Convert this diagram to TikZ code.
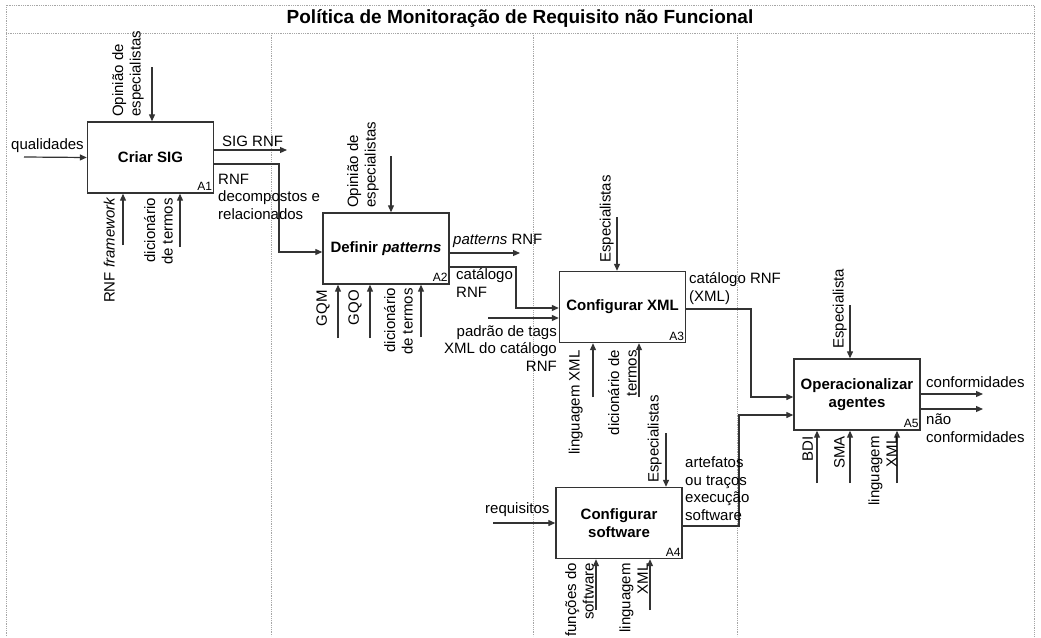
\documentclass[tikz,border=0pt]{standalone}
\usepackage{fontspec}
\setmainfont{Liberation Sans}
\usetikzlibrary{arrows.meta}

\begin{document}
\begin{tikzpicture}[x=1pt,y=-1pt,
  lbl/.style={font=\fontsize{15}{17.5}\selectfont, inner sep=0pt},
  procbox/.style={draw=black!80, line width=1.4pt, minimum width=126pt,
    minimum height=71pt, font=\fontsize{15}{18}\selectfont\bfseries,
    align=center, inner sep=0pt},
  arr/.style={draw=black!80, line width=1.2pt, -{Triangle[length=7pt,width=6pt]}},
  guide/.style={draw=gray!70, line width=0.8pt, densely dotted},
  tag/.style={font=\fontsize{12}{14}\selectfont, inner sep=0pt, anchor=base east},
  vup/.style={lbl, rotate=90, anchor=south west, align=left},
  vdown/.style={lbl, rotate=90, anchor=south east, align=right},
]
\useasboundingbox[fill=white] (0,0) rectangle (1041,637);

% frame, title band and swimlane separators
\draw[guide] (6,636) -- (6,5) -- (1034,5) -- (1034,636);
\draw[guide] (6,33) -- (1034,33);
\draw[guide] (271,33) -- (271,636);
\draw[guide] (533,33) -- (533,636);
\draw[guide] (737,33) -- (737,636);
\node[font=\fontsize{19}{21}\selectfont\bfseries] (title) at (520,19)
  {Política de Monitoração de Requisito não Funcional};

% activities
\node[procbox] (a1) at (150.5,157.5) {Criar SIG};
\node[procbox] (a2) at (386,248.5) {Definir \textit{patterns}};
\node[procbox] (a3) at (622.5,307) {Configurar XML};
\node[procbox] (a4) at (619,523) {Configurar\\software};
\node[procbox] (a5) at (857,394.5) {Operacionalizar\\agentes};
\foreach \b/\t in {a1/A1,a2/A2,a3/A3,a4/A4,a5/A5}
  \node[tag] (\b tag) at ([xshift=-2pt,yshift=3pt]\b.south east) {\t};

% free ends of the connectors
\coordinate (in1) at (24,157);
\coordinate (c1) at (152,67);
\coordinate (o1) at (287,150);
\coordinate (m1a) at (123,245);
\coordinate (m1b) at (180,247);
\coordinate (j1a) at (279,164);
\coordinate (j1b) at (279,252);

\coordinate (c2) at (391,156);
\coordinate (o2) at (520,253);
\coordinate (m2a) at (338,338);
\coordinate (m2b) at (370,338);
\coordinate (m2c) at (421,337);
\coordinate (j2a) at (516,267);
\coordinate (j2b) at (516,308);

\coordinate (in3) at (488,318);
\coordinate (c3) at (617,217);
\coordinate (m3a) at (593,397);
\coordinate (m3b) at (639,397);
\coordinate (j3a) at (751,309);
\coordinate (j3b) at (751,397);

\coordinate (in4) at (493,523);
\coordinate (c4) at (666,433);
\coordinate (m4a) at (596,610);
\coordinate (m4b) at (650,610);
\coordinate (j4a) at (739,526);
\coordinate (j4b) at (739,415);

\coordinate (c5) at (850,305);
\coordinate (o5a) at (983,394);
\coordinate (o5b) at (983,409);
\coordinate (m5a) at (817,483);
\coordinate (m5b) at (850,483);
\coordinate (m5c) at (897,483);

% A1
\draw[arr] (in1) -- (a1.west);
\draw[arr] (c1) -- (c1 |- a1.north);
\draw[arr] (a1.east |- o1) -- (o1);
\draw[arr] (a1.east |- j1a) -- (j1a) -- (j1b) -- (a2.west |- j1b);
\draw[arr] (m1a) -- (m1a |- a1.south);
\draw[arr] (m1b) -- (m1b |- a1.south);

% A2
\draw[arr] (c2) -- (c2 |- a2.north);
\draw[arr] (a2.east |- o2) -- (o2);
\draw[arr] (a2.east |- j2a) -- (j2a) -- (j2b) -- (a3.west |- j2b);
\draw[arr] (m2a) -- (m2a |- a2.south);
\draw[arr] (m2b) -- (m2b |- a2.south);
\draw[arr] (m2c) -- (m2c |- a2.south);

% A3
\draw[arr] (in3) -- (a3.west |- in3);
\draw[arr] (c3) -- (c3 |- a3.north);
\draw[arr] (a3.east |- j3a) -- (j3a) -- (j3b) -- (a5.west |- j3b);
\draw[arr] (m3a) -- (m3a |- a3.south);
\draw[arr] (m3b) -- (m3b |- a3.south);

% A4
\draw[arr] (in4) -- (a4.west);
\draw[arr] (c4) -- (c4 |- a4.north);
\draw[arr] (a4.east |- j4a) -- (j4a) -- (j4b) -- (a5.west |- j4b);
\draw[arr] (m4a) -- (m4a |- a4.south);
\draw[arr] (m4b) -- (m4b |- a4.south);

% A5
\draw[arr] (c5) -- (c5 |- a5.north);
\draw[arr] (a5.east |- o5a) -- (o5a);
\draw[arr] (a5.east |- o5b) -- (o5b);
\draw[arr] (m5a) -- (m5a |- a5.south);
\draw[arr] (m5b) -- (m5b |- a5.south);
\draw[arr] (m5c) -- (m5c |- a5.south);

% horizontal labels (base = baseline of the last line)
\node[lbl, anchor=base west] (tq) at (11,149) {qualidades};
\node[lbl, anchor=base west] (tsig) at (222,146) {SIG RNF};
\node[lbl, anchor=base west, align=left] (trnf) at (218,219)
  {RNF\\decompostos e\\relacionados};
\node[lbl, anchor=base west] (tpat) at (453,244) {\textit{patterns} RNF};
\node[lbl, anchor=base west, align=left] (tcat) at (456,297) {catálogo\\RNF};
\node[lbl, anchor=base east, align=right] (ttag) at (557,371)
  {padrão de tags\\XML do catálogo\\RNF};
\node[lbl, anchor=base west, align=left] (txml) at (689,301) {catálogo RNF\\(XML)};
\node[lbl, anchor=base west] (treq) at (485,513) {requisitos};
\node[lbl, anchor=base west, align=left] (tart) at (685,520)
  {artefatos\\ou traços\\execução\\software};
\node[lbl, anchor=base west] (tconf) at (926,387) {conformidades};
\node[lbl, anchor=base west, align=left] (tnconf) at (926,442) {não\\conformidades};

% vertical labels above the activities
\node[vup] (v1) at (144,117) {Opinião de\\especialistas};
\node[vup] (v2) at (379,208) {Opinião de\\especialistas};
\node[vup] (v3) at (614,263) {Especialistas};
\node[vup] (v4) at (662,483) {Especialistas};
\node[vup] (v5) at (847,349) {Especialista};

% vertical labels below the activities
\node[vdown] (w1a) at (115,197) {RNF \textit{framework}};
\node[vdown] (w1b) at (173,198) {dicionário\\de termos};
\node[vdown] (w2a) at (330,290) {GQM};
\node[vdown] (w2b) at (362,290) {GQO};
\node[vdown] (w2c) at (413,288) {dicionário\\de termos};
\node[vdown] (w3a) at (583,350) {linguagem XML};
\node[vdown] (w3b) at (637,350) {dicionário de\\termos};
\node[vdown] (w4a) at (594,563) {funções do\\software};
\node[vdown] (w4b) at (648,563) {linguagem\\XML};
\node[vdown] (w5a) at (813,436) {BDI};
\node[vdown] (w5b) at (845,436) {SMA};
\node[vdown] (w5c) at (897,436) {linguagem\\XML};
\end{tikzpicture}
\end{document}
